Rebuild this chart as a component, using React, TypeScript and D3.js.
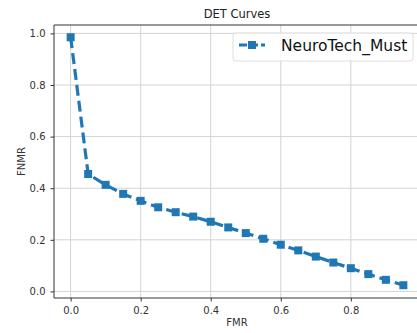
import { useEffect, useRef } from 'react'
import * as d3 from 'd3'

const fmr = [0, 0.05, 0.1, 0.15, 0.2, 0.25, 0.3, 0.35, 0.4, 0.45, 0.5, 0.55, 0.6, 0.65, 0.7, 0.75, 0.8, 0.85, 0.9, 0.95]
const fnmr = [0.985, 0.455, 0.413, 0.378, 0.351, 0.326, 0.307, 0.29, 0.27, 0.248, 0.226, 0.204, 0.181, 0.159, 0.135, 0.112, 0.09, 0.067, 0.045, 0.024]
const xTicks = [0, 0.2, 0.4, 0.6, 0.8]
const yTicks = [0, 0.2, 0.4, 0.6, 0.8, 1.0]
const seriesName = 'NeuroTech_Must'

export default function App() {
  const ref = useRef<SVGSVGElement>(null)

  useEffect(() => {
    const svg = d3.select(ref.current)
    svg.selectAll('*').remove()

    const W = 417, H = 333
    const left = 54, right = 420, top = 25, bottom = 298
    const blue = '#1f77b4'
    const font = 'DejaVu Sans, sans-serif'

    const x = d3.scaleLinear().domain([-0.0475, 0.9975]).range([left, right])
    const y = d3.scaleLinear().domain([-0.0255, 1.0325]).range([bottom, top])

    svg.attr('width', W).attr('height', H)
    svg.append('rect').attr('width', W).attr('height', H).attr('fill', '#fff')

    // grid
    const grid = svg.append('g').attr('stroke', '#d3d3d3').attr('stroke-width', 1)
    xTicks.forEach(t => {
      grid.append('line').attr('x1', x(t)).attr('x2', x(t)).attr('y1', top).attr('y2', bottom)
    })
    yTicks.forEach(t => {
      grid.append('line').attr('x1', left).attr('x2', right).attr('y1', y(t)).attr('y2', y(t))
    })

    // axes
    const xAxis = svg.append('g')
      .attr('transform', `translate(0,${bottom})`)
      .call(d3.axisBottom(x).tickValues(xTicks).tickFormat(d3.format('.1f')).tickSize(3.5).tickPadding(5))
    const yAxis = svg.append('g')
      .attr('transform', `translate(${left},0)`)
      .call(d3.axisLeft(y).tickValues(yTicks).tickFormat(d3.format('.1f')).tickSize(3.5).tickPadding(5))
    ;[xAxis, yAxis].forEach(a => {
      a.select('.domain').remove()
      a.selectAll('line').attr('stroke', '#333')
      a.selectAll('text').attr('font-family', font).attr('font-size', 10).attr('fill', '#333')
    })

    // spines
    svg.append('line').attr('x1', left).attr('x2', left).attr('y1', top).attr('y2', bottom).attr('stroke', '#333')
    svg.append('line').attr('x1', left).attr('x2', right).attr('y1', bottom).attr('y2', bottom).attr('stroke', '#333')
    svg.append('line').attr('x1', left).attr('x2', right).attr('y1', top).attr('y2', top).attr('stroke', '#333')
    svg.append('line').attr('x1', right).attr('x2', right).attr('y1', top).attr('y2', bottom).attr('stroke', '#333')

    // series
    const pts = fmr.map((v, i) => [v, fnmr[i]] as [number, number])
    const line = d3.line<[number, number]>().x(d => x(d[0])).y(d => y(d[1]))
    svg.append('path')
      .datum(pts)
      .attr('d', line)
      .attr('fill', 'none')
      .attr('stroke', blue)
      .attr('stroke-width', 3.2)
      .attr('stroke-dasharray', '11,5')
    svg.append('g').selectAll('rect')
      .data(pts)
      .join('rect')
      .attr('x', d => x(d[0]) - 4)
      .attr('y', d => y(d[1]) - 4)
      .attr('width', 8)
      .attr('height', 8)
      .attr('fill', blue)

    // title & labels
    svg.append('text').attr('x', (left + right) / 2).attr('y', 18).attr('text-anchor', 'middle')
      .attr('font-family', font).attr('font-size', 11.5).attr('fill', '#222').text('DET Curves')
    svg.append('text').attr('x', (left + right) / 2).attr('y', 326).attr('text-anchor', 'middle')
      .attr('font-family', font).attr('font-size', 10).attr('fill', '#333').text('FMR')
    svg.append('text').attr('transform', `translate(25,${(top + bottom) / 2}) rotate(-90)`).attr('text-anchor', 'middle')
      .attr('font-family', font).attr('font-size', 10).attr('fill', '#333').text('FNMR')

    // legend
    const lg = svg.append('g')
    lg.append('rect').attr('x', 233).attr('y', 33).attr('width', 180).attr('height', 28).attr('rx', 3)
      .attr('fill', 'rgba(255,255,255,0.85)').attr('stroke', '#ddd')
    lg.append('line').attr('x1', 239).attr('x2', 265).attr('y1', 45).attr('y2', 45)
      .attr('stroke', blue).attr('stroke-width', 3.2).attr('stroke-dasharray', '8,3')
    lg.append('rect').attr('x', 248).attr('y', 41).attr('width', 8).attr('height', 8).attr('fill', blue)
    lg.append('text').attr('x', 281).attr('y', 51).attr('font-family', font).attr('font-size', 15.5)
      .attr('fill', '#111').text(seriesName)
  }, [])

  return <svg ref={ref} style={{ position: 'absolute', left: 0, top: 0 }} />
}
